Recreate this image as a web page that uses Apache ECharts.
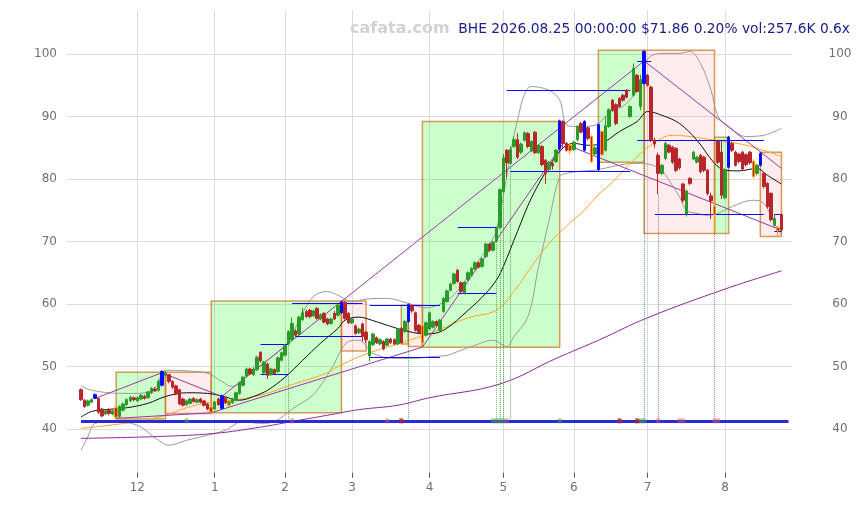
<!DOCTYPE html>
<html><head><meta charset="utf-8">
<script src="https://cdn.jsdelivr.net/npm/echarts@6/dist/echarts.min.js"></script>
<style>html,body{margin:0;padding:0;background:#fff}#c{width:867px;height:505px}</style>
</head><body><div id="c"></div>
<script>
// ---------- calendar (trading days) ----------
const START_DATE = '2025-11-06', END_DATE = '2026-08-25';
const HOLIDAYS = ['2025-11-27','2025-12-25','2026-01-01','2026-01-19','2026-02-16','2026-04-03','2026-05-25','2026-06-19','2026-07-03'];

// ---------- OHLC ----------
const OPEN = [46.3,44.6,43.8,44.3,44.9,44.9,43.2,42.4,43.1,42.4,43.4,42.0,43.0,43.9,44.5,45.0,
44.5,44.8,45.2,45.0,45.8,46.4,46.2,47.0,48.6,48.7,47.6,46.9,46.3,44.8,43.9,44.1,44.9,44.3,44.8,44.5,44.0,43.5,
43.2,44.8,43.3,45.0,43.8,44.2,44.6,45.7,47.0,48.5,49.6,48.7,49.5,52.3,49.0,50.4,48.7,49.5,49.2,51.0,
51.8,53.6,54.3,55.7,55.2,57.5,58.8,59.0,58.1,59.3,57.6,58.5,57.6,56.9,58.5,58.2,58.6,60.3,58.5,
57.0,56.5,55.4,56.8,55.5,51.7,53.5,54.6,53.6,54.0,53.4,54.4,54.3,53.6,56.1,55.6,57.2,59.7,58.6,56.6,56.5,
55.0,56.0,56.3,57.2,55.8,58.8,60.4,62.2,63.3,65.4,63.4,61.8,63.9,64.6,65.6,66.6,66.0,67.6,69.6,68.6,70.1,72.2,
78.0,84.6,82.5,85.2,86.3,84.3,86.2,87.3,84.5,87.5,84.2,85.2,83.0,81.5,82.5,82.8,84.8,89.2,85.7,85.4,
84.7,86.3,88.9,84.6,88.2,86.8,84.0,81.5,87.6,84.6,88.4,92.6,91.9,92.9,93.4,94.2,90.0,93.4,96.6,91.6,95.3,
96.6,94.7,86.2,83.8,80.9,83.3,85.4,85.1,84.9,83.2,79.2,74.4,80.1,83.2,82.7,83.8,83.5,81.4,77.3,75.6,86.0,84.3,
77.0,81.9,85.7,84.3,84.0,84.3,83.9,84.3,82.8,80.9,82.2,80.9,79.3,77.7,72.6,72.2,74.3];
const CLOSE = [44.7,43.6,44.5,44.7,45.5,42.7,42.1,42.9,42.5,42.9,41.9,43.6,44.0,44.7,45.1,44.7,
45.0,45.4,44.9,45.9,46.5,46.1,47.6,49.2,49.0,47.6,46.7,45.6,44.0,43.8,44.5,44.8,44.4,44.7,44.3,43.8,43.2,42.7,
44.3,43.9,45.3,44.2,44.5,44.8,45.8,47.4,48.3,49.6,48.8,49.6,51.5,50.9,50.7,48.6,49.6,48.9,51.4,52.2,
53.4,55.6,56.9,55.0,57.9,58.6,58.0,58.0,58.9,57.7,58.3,57.1,56.8,57.6,57.6,59.8,60.3,57.7,57.0,
57.6,55.3,56.0,54.8,54.3,54.0,55.2,53.8,54.3,52.8,54.4,53.8,53.6,55.9,53.8,57.2,59.9,58.9,55.8,55.4,53.8,
57.0,58.6,57.2,56.6,57.4,60.9,62.1,63.2,64.8,63.6,62.0,63.5,65.0,65.7,66.6,65.9,67.2,69.6,68.6,69.9,72.2,78.3,
83.4,82.6,84.7,86.3,83.5,85.6,87.4,85.2,86.0,84.2,85.4,82.3,80.9,82.7,82.1,84.6,89.3,85.7,84.6,84.5,
85.9,88.4,87.5,89.2,86.5,82.8,85.0,88.7,83.9,88.5,91.1,91.0,88.9,91.6,92.6,93.1,91.6,97.7,94.0,95.9,100.4,
95.0,86.2,85.6,80.9,82.2,85.7,84.3,82.7,81.4,81.8,76.6,78.1,79.3,84.3,83.5,81.2,81.4,77.7,76.5,74.3,82.7,77.4,
81.5,86.7,84.6,82.2,82.8,81.6,82.3,82.6,80.4,82.2,84.1,78.8,75.6,73.5,73.7,71.72,71.86];
const HIGH = [46.5,44.8,44.7,44.9,45.7,45.0,43.4,43.1,43.3,43.2,43.6,43.8,44.2,44.9,45.3,45.2,
45.2,45.6,45.5,46.1,46.7,46.7,47.9,49.4,49.3,48.8,47.8,47.1,46.4,45.0,44.7,45.0,45.1,44.9,45.0,44.6,44.2,43.6,
44.5,45.0,45.5,45.2,44.7,45.0,46.0,47.6,48.5,49.8,49.8,49.9,51.7,52.4,50.9,50.6,49.8,49.7,51.6,52.4,
53.6,55.8,57.8,55.9,58.1,59.4,59.1,59.2,59.1,59.5,58.5,58.7,57.8,57.8,58.9,60.0,60.5,60.5,58.7,
57.8,56.7,56.2,57.0,55.7,54.2,55.4,54.8,54.5,54.2,54.6,54.6,54.5,56.1,56.3,57.4,60.1,59.9,58.8,56.8,56.9,
57.2,58.8,57.4,57.4,57.6,61.1,62.3,63.4,65.0,65.6,63.6,63.7,65.2,65.9,66.8,66.8,67.4,69.8,69.8,70.1,72.4,78.5,
84.0,84.8,85.2,86.8,87.3,85.8,87.6,87.5,86.2,87.7,85.6,85.4,83.2,82.9,82.9,84.8,89.5,89.4,85.9,85.6,
86.1,88.6,89.1,89.4,88.4,87.0,85.2,88.9,87.8,90.0,91.3,92.8,92.1,93.1,93.6,94.4,91.8,98.5,96.8,96.7,100.6,
96.8,94.9,86.6,84.2,82.4,86.0,85.6,85.3,85.1,83.4,79.4,78.3,80.3,84.5,83.7,84.0,83.7,81.6,77.8,76.6,86.2,86.0,
81.7,86.9,86.0,84.5,84.2,84.5,84.1,84.5,83.1,82.4,84.3,81.1,79.5,77.9,74.3,72.5,74.5];
const LOW = [44.5,43.4,43.6,44.1,44.8,42.4,41.9,42.2,42.2,42.2,41.6,41.8,42.8,43.7,44.3,44.4,
44.3,44.6,44.7,44.9,45.6,45.9,46.0,46.8,48.3,47.3,46.4,45.4,43.8,43.6,43.7,43.9,44.2,44.1,44.1,43.6,43.0,42.5,
43.0,43.7,43.1,44.0,43.6,44.0,44.4,45.5,46.8,48.3,48.6,48.5,49.3,50.6,48.8,48.0,48.5,48.7,49.0,50.8,
51.6,53.4,54.1,54.7,55.0,57.3,57.8,57.7,57.9,57.5,57.4,56.9,56.6,56.7,57.4,58.0,58.4,57.5,56.8,
56.8,55.1,55.2,54.0,53.8,50.8,53.3,53.6,53.4,52.6,53.2,53.6,53.4,53.4,53.6,55.4,57.0,58.6,55.6,55.2,53.4,
54.8,55.8,56.1,56.4,55.6,58.6,60.2,62.0,63.1,63.4,61.7,61.5,63.7,64.4,65.4,65.7,65.8,67.4,68.4,68.4,69.9,72.0,
77.7,80.2,82.3,85.0,83.2,84.0,86.0,84.9,84.3,84.0,84.0,82.0,79.2,81.3,81.5,82.6,84.6,85.0,84.4,84.0,
84.5,86.0,87.3,84.4,86.2,82.5,83.8,81.3,83.6,84.4,88.2,90.8,88.6,91.4,92.4,92.9,89.8,93.2,93.8,91.0,95.1,
94.8,85.9,85.0,77.6,80.6,83.0,84.1,82.4,81.1,81.5,76.2,74.0,79.0,83.0,82.5,80.9,81.1,77.4,73.6,71.4,82.4,76.8,
76.8,81.7,84.3,82.0,82.5,81.3,82.0,82.3,80.1,80.6,82.0,78.5,75.3,73.2,72.4,70.8,71.6];

// signal candles (trading-day index)
const BLUE_SIG = [4,23,40,74,93,136,143,147,160,184,193];
const ORANGE_SIG = [10,37,42,97,139,145,148,180,191,198];

// ---------- indicator lines: [day index, value] ----------
const MA_BLACK = [[0,41.9],[3,42.8],[7,43.1],[13,43.4],[19,44.1],[24,45.2],[30,45.8],[36,45.7],[40,45.3],[45,44.6],[49,45.2],[53,46.2],[58,48.3],[63,51.0],[68,53.7],[73,56.1],[75,57.4],[79,57.9],[81,57.7],[87,56.6],[93,55.6],[98,55.2],[103,55.8],[110,59.0],[115,61.7],[118,63.8],[120,66.0],[124,71.6],[128,77.0],[133,82.0],[137,85.0],[140,85.7],[144,85.4],[148,85.7],[153,87.6],[158,89.2],[161,90.8],[165,90.2],[170,88.9],[175,86.2],[180,82.5],[183,81.4],[187,81.3],[192,81.7],[195,80.6],[199,79.2]];
const MA_ORANGE = [[0,40.1],[8,40.6],[16,41.2],[24,42.2],[30,43.4],[36,44.2],[42,44.5],[51,45.4],[60,47.1],[70,49.0],[73,50.0],[81,52.0],[91,53.8],[100,55.5],[110,57.8],[118,59.0],[123,62.0],[128,66.0],[133,69.7],[138,72.5],[143,75.0],[147,77.5],[151,79.5],[159,84.1],[164,86.2],[168,87.0],[173,86.8],[180,86.2],[189,85.4],[199,83.6]];
const MA_PURPLE = [[0,38.5],[22,38.8],[38,39.3],[51,40.3],[60,41.2],[70,42.2],[79,43.1],[90,43.8],[99,45.0],[119,47.2],[135,51.3],[147,54.2],[161,57.8],[183,62.4],[199,65.3]];
const BB_UPPER = [[0,46.9],[3,46.2],[11,45.7],[16,45.7],[21,46.5],[24,49.4],[30,49.3],[36,48.9],[40,47.6],[43,46.8],[47,48.4],[53,51.0],[59,54.0],[62,57.5],[66,61.2],[70,62.0],[73,61.4],[77,60.4],[81,60.8],[87,60.9],[93,60.1],[98,59.4],[104,60.6],[108,62.8],[111,65.4],[115,68.6],[118,71.8],[124,89.4],[128,94.8],[133,94.2],[136,92.6],[138,88.6],[141,88.4],[146,88.6],[150,90.5],[155,92.1],[159,95.3],[161,99.2],[165,100.1],[170,100.1],[173,100.4],[176,98.5],[179,94.2],[181,90.0],[184,88.4],[189,86.8],[194,87.0],[199,88.1]];
const BB_LOWER = [[0,36.6],[2,38.8],[4,40.9],[9,41.2],[16,40.6],[22,38.2],[25,37.4],[30,38.2],[36,39.0],[41,39.8],[46,41.2],[51,40.9],[55,41.2],[60,43.2],[66,45.5],[71,49.5],[76,54.0],[79,54.2],[83,52.1],[89,51.3],[94,51.3],[100,51.6],[104,51.8],[108,52.6],[111,53.2],[117,54.2],[121,53.2],[123,54.8],[127,58.0],[130,66.0],[133,73.4],[136,80.4],[138,80.9],[141,81.2],[146,81.4],[151,82.0],[157,82.5],[161,82.4],[165,81.4],[167,79.8],[170,77.2],[172,75.0],[175,74.5],[178,74.2],[181,74.5],[185,75.6],[191,76.6],[194,76.1],[197,72.9],[199,71.0]];

// zigzag trend lines (pivot day index, price)
const TREND_UPPER = [[4,44.9],[23,49.0],[40,45.2],[160,98.9],[199,81.7]];
const TREND_LOWER = [[10,41.7],[37,42.6],[97,53.1],[137,85.7],[199,71.8]];

// boxes
const BOX_START = [10,24,37,74,91,93,97,147,160,180,193];
const BOX_END   = [24,37,74,81,93,97,136,160,180,184,199];
const BOX_HIGH  = [49.1,49.1,60.5,60.5,59.8,59.8,89.2,100.6,100.6,86.7,84.3];
const BOX_LOW   = [41.6,42.5,42.6,52.5,53.6,53.2,53.1,82.7,71.3,71.3,70.8];
const BOX_DIR   = ['up','down','up','down','up','down','up','up','down','up','down'];

// blue level segments
const SEG_FROM = [51,51,60,61,82,82,107,107,122,121,158,158,163,197,197];
const SEG_TO   = [59,59,80,80,102,102,118,118,156,156,162,194,194,199,199];
const SEG_VAL  = [48.8,53.5,60.1,54.8,59.8,51.5,72.3,61.7,81.3,94.2,98.9,86.2,74.3,74.4,71.7];

// base line and event markers
const BASE_VAL = 41.3, BASE_FROM = 0, BASE_TO = 201;
const MARK_IDX  = [30,60,87,91,117,118,119,120,121,136,153,158,159,160,164,170,171,180,181];
const MARK_KIND = ['g','p','p','r','g','g','g','g','p','g','r','r','g','g','p','p','p','p','p'];
const DOT_IDX   = [59,93,118,119,120,122,160,164,180];
const DOT_KIND  = ['g','g','g','g','g','g','g','r','r'];

const TITLE_TEXT = 'BHE 2026.08.25 00:00:00 $71.86 0.20% vol:257.6K 0.6x';
const WATERMARK = 'cafata.com';

// ---------- build ----------
function tradingDays(){
  const out=[]; let d=new Date(START_DATE+'T00:00:00Z'); const e=new Date(END_DATE+'T00:00:00Z');
  while(d<=e){ const wd=d.getUTCDay(); const s=d.toISOString().slice(0,10);
    if(wd!==0&&wd!==6&&!HOLIDAYS.includes(s)) out.push(s);
    d=new Date(d.getTime()+86400000); }
  return out;
}
const DATES = tradingDays();
const PAD_L = 4, PAD_R = 3;
const cats = [];
for(let k=0;k<PAD_L;k++) cats.push('pre'+k);
DATES.forEach(d=>cats.push(d));
for(let k=0;k<PAD_R;k++) cats.push('post'+k);
const cat = i => cats[i+PAD_L];
const isMonthStart = k => {
  const i=k-PAD_L; if(i<=0||i>=DATES.length) return false;
  return DATES[i].slice(5,7)!==DATES[i-1].slice(5,7);
};

const BLUE='#0a0aff', ORANGE='#ff9a00', UP='#2a9a2a', DOWN='#b8262a';
const candleData=[];
for(let k=0;k<PAD_L;k++) candleData.push(['-','-','-','-']);
for(let i=0;i<OPEN.length;i++){
  const it={value:[OPEN[i],CLOSE[i],LOW[i],HIGH[i]]};
  if(BLUE_SIG.includes(i)) it.itemStyle={color:BLUE,color0:BLUE,borderColor:BLUE,borderColor0:BLUE,borderWidth:1};
  else if(ORANGE_SIG.includes(i)) it.itemStyle={borderColor:ORANGE,borderColor0:ORANGE,borderWidth:1};
  candleData.push(it);
}
for(let k=0;k<PAD_R;k++) candleData.push(['-','-','-','-']);

const toPts = arr => arr.map(([i,v])=>[cat(i),v]);
const lineSeries = (arr,color,width,smooth,z) => ({type:'line',data:toPts(arr),showSymbol:false,smooth:smooth,
  lineStyle:{color:color,width:width},itemStyle:{color:color},z:z,silent:true});

const FONT='DejaVu Sans';
const boxes = BOX_START.map((s,k)=>[
  {xAxis:cat(s),yAxis:BOX_HIGH[k],itemStyle:{color:BOX_DIR[k]==='up'?'rgba(0,255,0,0.2)':'rgba(255,0,0,0.07)',
    borderColor:'rgba(205,120,40,0.75)',borderWidth:1.5}},
  {xAxis:cat(BOX_END[k]),yAxis:BOX_LOW[k]}
]);
const segs = SEG_FROM.map((a,k)=>[
  {coord:[cat(a),SEG_VAL[k]],lineStyle:{color:BLUE,width:1,type:'solid'}},
  {coord:[cat(SEG_TO[k]),SEG_VAL[k]]}
]);
segs.push([{coord:[cat(BASE_FROM),BASE_VAL],lineStyle:{color:'#2a2ad8',width:3,type:'solid'}},{coord:[cat(BASE_TO),BASE_VAL]}]);
const dots = DOT_IDX.map((i,k)=>[
  {coord:[cat(i),BASE_VAL],lineStyle:{color:DOT_KIND[k]==='g'?'rgba(40,150,40,0.7)':'rgba(190,60,60,0.7)',width:1,type:'dotted'}},
  {coord:[cat(i),LOW[i]]}
]);
const markColors={g:'rgba(70,160,80,0.65)',r:'#b22222',p:'rgba(205,90,100,0.6)'};
const marks = MARK_IDX.map((i,k)=>({value:[cat(i),BASE_VAL],itemStyle:{color:markColors[MARK_KIND[k]]}}));

const yCommon = {type:'value',min:33,max:107,minInterval:10,maxInterval:10,
  axisLine:{show:false},axisTick:{show:false}};

const option = {
  animation:false,
  backgroundColor:'#fff',
  title:[
    {text:TITLE_TEXT,right:12,top:17,textStyle:{color:'#1c1c8c',fontSize:13.8,fontWeight:'normal',fontFamily:FONT}},
    {text:WATERMARK,left:345,top:16,textStyle:{color:'#d2d2d2',fontSize:16,fontWeight:'bold',fontFamily:FONT}}
  ],
  grid:{left:66.9,right:75,top:10.25,bottom:32.25,containLabel:false},
  xAxis:{type:'category',data:cats,boundaryGap:false,
    axisLine:{show:false},
    axisTick:{show:true,length:5,interval:(idx)=>isMonthStart(idx),lineStyle:{color:'#555'}},
    axisLabel:{interval:(idx)=>isMonthStart(idx),formatter:(v)=>String(Number(v.slice(5,7))),
      color:'#707070',fontSize:12,fontFamily:FONT,margin:9},
    splitLine:{show:true,interval:(idx)=>isMonthStart(idx),lineStyle:{color:'#dcdcdc',width:1}}},
  yAxis:[
    Object.assign({},yCommon,{position:'left',
      axisLabel:{color:'#707070',fontSize:12,fontFamily:FONT,margin:10,showMinLabel:false,showMaxLabel:false},
      splitLine:{show:true,showMinLine:false,showMaxLine:false,lineStyle:{color:'#dcdcdc',width:1}}}),
    Object.assign({},yCommon,{position:'right',
      axisLabel:{color:'#707070',fontSize:12,fontFamily:FONT,margin:48,align:'center',showMinLabel:false,showMaxLabel:false},
      splitLine:{show:false}})
  ],
  series:[
    {type:'line',data:[],z:1,silent:true,markArea:{silent:true,data:boxes}},
    lineSeries(BB_UPPER,'#9a9a9a',1,0.35,3),
    lineSeries(BB_LOWER,'#9a9a9a',1,0.35,3),
    lineSeries(MA_PURPLE,'#8e2a9a',1,0.4,3),
    lineSeries(MA_ORANGE,'#ffa520',1,0.4,3),
    lineSeries(MA_BLACK,'#111111',1,0.35,4),
    lineSeries(TREND_UPPER,'#9b38a8',1,false,4),
    lineSeries(TREND_LOWER,'#9b38a8',1,false,4),
    {type:'line',data:[],z:5,silent:true,markLine:{silent:true,symbol:['none','none'],label:{show:false},data:dots.concat(segs)}},
    {type:'candlestick',data:candleData,barWidth:3,z:6,silent:true,
      itemStyle:{color:UP,color0:DOWN,borderColor:UP,borderColor0:DOWN,borderWidth:1}},
    {type:'scatter',data:marks,symbol:'rect',symbolSize:[4,5],z:7,silent:true}
  ]
};
const chart = echarts.init(document.getElementById('c'),null,{renderer:'canvas',width:867,height:505});
chart.setOption(option);
</script>
</body></html>
